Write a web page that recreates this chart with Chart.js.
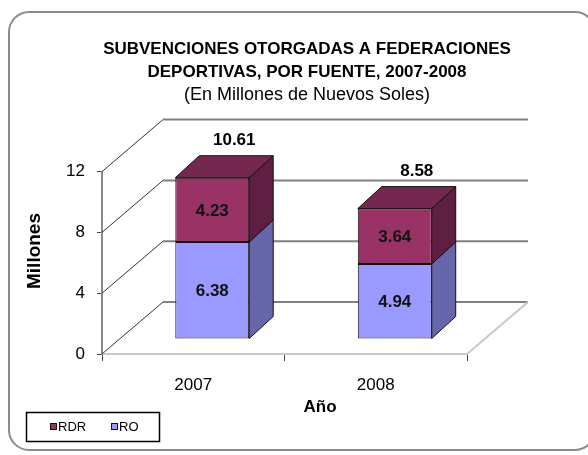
<!DOCTYPE html>
<html><head><meta charset="utf-8">
<script src="https://cdn.jsdelivr.net/npm/chart.js@4"></script>
<style>html,body{margin:0;padding:0;background:#fff;} canvas{display:block}</style>
</head><body>
<canvas id="c" width="588" height="455"></canvas>
<script>
const categories = ['2007', '2008'];
const seriesRO = [6.38, 4.94];
const seriesRDR = [4.23, 3.64];
const totals = [10.61, 8.58];
const yMin = 0, yMax = 12, yStep = 4;
const titleLines = ['SUBVENCIONES OTORGADAS A FEDERACIONES', 'DEPORTIVAS, POR FUENTE, 2007-2008'];
const subtitleText = '(En Millones de Nuevos Soles)';
const yTitle = 'Millones';
const xTitle = 'Año';

const BOX = {dx: 61, dy: -52};
const BAR_OFF = {dx: 19, dy: -15};
const BAR_DEPTH = {dx: 24, dy: -22};
const FONT = "'Liberation Sans', Arial, sans-serif";

function line(ctx, x1, y1, x2, y2) { ctx.beginPath(); ctx.moveTo(x1, y1); ctx.lineTo(x2, y2); ctx.stroke(); }
function poly(ctx, pts, fill) {
  ctx.beginPath(); ctx.moveTo(pts[0][0], pts[0][1]);
  for (let k = 1; k < pts.length; k++) ctx.lineTo(pts[k][0], pts[k][1]);
  ctx.closePath(); ctx.fillStyle = fill; ctx.fill();
  ctx.strokeStyle = '#111'; ctx.lineWidth = 1; ctx.stroke();
}

const threeD = {
  id: 'threeD',
  beforeDraw(chart) {
    const ctx = chart.ctx;
    ctx.save();
    ctx.fillStyle = '#fff'; ctx.fillRect(0, 0, chart.width, chart.height);
    ctx.strokeStyle = '#8c8c8c'; ctx.lineWidth = 2;
    ctx.beginPath();
    const x0 = 9, y0 = 12, w = 586, h = 438, r = 20;
    ctx.moveTo(x0 + r, y0); ctx.lineTo(x0 + w - r, y0); ctx.arcTo(x0 + w, y0, x0 + w, y0 + r, r);
    ctx.lineTo(x0 + w, y0 + h - r); ctx.arcTo(x0 + w, y0 + h, x0 + w - r, y0 + h, r);
    ctx.lineTo(x0 + r, y0 + h); ctx.arcTo(x0, y0 + h, x0, y0 + h - r, r);
    ctx.lineTo(x0, y0 + r); ctx.arcTo(x0, y0, x0 + r, y0, r);
    ctx.stroke();
    ctx.restore();
  },
  beforeDatasetsDraw(chart) {
    const ctx = chart.ctx, x = chart.scales.x, y = chart.scales.y;
    ctx.save();
    const yb = y.getPixelForValue(0);
    y.ticks.forEach(t => {
      const yf = y.getPixelForValue(t.value);
      ctx.strokeStyle = '#333'; ctx.lineWidth = 1;
      line(ctx, x.left, yf, x.left + BOX.dx, yf + BOX.dy);
      ctx.strokeStyle = '#808080'; ctx.lineWidth = 2;
      line(ctx, x.left + BOX.dx, yf + BOX.dy, x.right + BOX.dx, yf + BOX.dy);
    });
    ctx.strokeStyle = '#c8c8c8'; ctx.lineWidth = 2;
    line(ctx, x.right, yb, x.right + BOX.dx, yb + BOX.dy);
    ctx.restore();
    ctx.save();
    ctx.translate(BAR_OFF.dx, BAR_OFF.dy);
  },
  afterDatasetsDraw(chart) {
    const ctx = chart.ctx;
    const n = chart.data.datasets.length;
    const dx = BAR_DEPTH.dx, dy = BAR_DEPTH.dy;
    chart.data.datasets.forEach((ds, di) => {
      const meta = chart.getDatasetMeta(di);
      meta.data.forEach((bar, i) => {
        const p = bar.getProps(['x', 'y', 'base', 'width'], true);
        const l = p.x - p.width / 2, r = p.x + p.width / 2;
        poly(ctx, [[r, p.y], [r + dx, p.y + dy], [r + dx, p.base + dy], [r, p.base]], ds.sideColor);
        if (di === n - 1) poly(ctx, [[l, p.y], [l + dx, p.y + dy], [r + dx, p.y + dy], [r, p.y]], ds.topColor);
        ctx.fillStyle = '#111';
        ctx.font = 'bold 17px ' + FONT;
        ctx.textAlign = 'center'; ctx.textBaseline = 'middle';
        ctx.fillText(ds.data[i].toFixed(2), p.x, (p.y + p.base) / 2 + 1);
      });
    });
    const topMeta = chart.getDatasetMeta(n - 1);
    topMeta.data.forEach((bar, i) => {
      const p = bar.getProps(['x', 'y'], true);
      ctx.fillStyle = '#000';
      ctx.font = 'bold 17px ' + FONT;
      ctx.textAlign = 'center'; ctx.textBaseline = 'middle';
      ctx.fillText(totals[i].toFixed(2), p.x + 22, p.y - 37);
    });
    ctx.restore();
  },
  afterDraw(chart) {
    const ctx = chart.ctx;
    ctx.save();
    ctx.fillStyle = '#000';
    ctx.font = 'bold 17px ' + FONT;
    ctx.textAlign = 'center'; ctx.textBaseline = 'middle';
    ctx.fillText(xTitle, 320, 407);
    ctx.font = 'bold 19px ' + FONT;
    ctx.translate(35, 251); ctx.rotate(-Math.PI / 2);
    ctx.fillText(yTitle, 0, 0);
    ctx.restore();
    // legend
    ctx.save();
    ctx.strokeStyle = '#000'; ctx.lineWidth = 1.5;
    ctx.strokeRect(26.5, 412.5, 133, 29);
    ctx.font = '13px ' + FONT; ctx.textBaseline = 'middle'; ctx.textAlign = 'left';
    const order = chart.data.datasets.map((d, i) => i).reverse();
    const xs = [50, 111];
    order.forEach((di, k) => {
      const ds = chart.data.datasets[di];
      ctx.fillStyle = ds.backgroundColor;
      ctx.fillRect(xs[k], 423, 6, 6);
      ctx.strokeStyle = '#111'; ctx.lineWidth = 1;
      ctx.strokeRect(xs[k] + 0.5, 423.5, 6, 6);
      ctx.fillStyle = '#000';
      ctx.fillText(ds.label, xs[k] + 8, 427);
    });
    ctx.restore();
  }
};

new Chart(document.getElementById('c'), {
  type: 'bar',
  data: {
    labels: categories,
    datasets: [
      { label: 'RO', data: seriesRO, backgroundColor: '#9999FF', sideColor: '#6666AA', topColor: '#7777CC',
        borderColor: '#111', borderWidth: 1, borderSkipped: false, clip: false, barPercentage: 0.405, categoryPercentage: 1 },
      { label: 'RDR', data: seriesRDR, backgroundColor: '#993366', sideColor: '#5E1F42', topColor: '#74284F',
        borderColor: '#111', borderWidth: 1, borderSkipped: false, clip: false, barPercentage: 0.405, categoryPercentage: 1 }
    ]
  },
  options: {
    responsive: false, animation: false, devicePixelRatio: 1,
    layout: { padding: { left: 26, right: 0, top: 38, bottom: 0 } },
    plugins: {
      legend: { display: false }, tooltip: { enabled: false },
      title: { display: true, text: titleLines, color: '#000',
        font: { family: FONT, size: 17, weight: 'bold', lineHeight: 23 / 17 }, padding: { top: 0, bottom: 0 } },
      subtitle: { display: true, text: subtitleText, color: '#000',
        font: { family: FONT, size: 18, weight: 'normal', lineHeight: 1.2 }, padding: { top: 0, bottom: 66 } }
    },
    scales: {
      x: { stacked: true,
        grid: { drawOnChartArea: false, tickLength: 7, tickColor: '#444', offset: true },
        border: { color: '#c8c8c8', width: 2 },
        ticks: { font: { family: FONT, size: 17 }, color: '#000', padding: 14 },
        afterFit(s) { s.height = 101; } },
      y: { stacked: true, min: yMin, max: yMax,
        ticks: { stepSize: yStep, font: { family: FONT, size: 17 }, color: '#000', padding: 12 },
        grid: { drawOnChartArea: false, tickLength: 5, tickColor: '#444' },
        border: { color: '#8a8a8a', width: 2 },
        afterFit(s) { s.width = 76; } },
      yR: { position: 'right', display: true, ticks: { display: false }, grid: { display: false },
        border: { display: false }, afterFit(s) { s.width = 121; } }
    }
  },
  plugins: [threeD]
});
</script>
</body></html>
